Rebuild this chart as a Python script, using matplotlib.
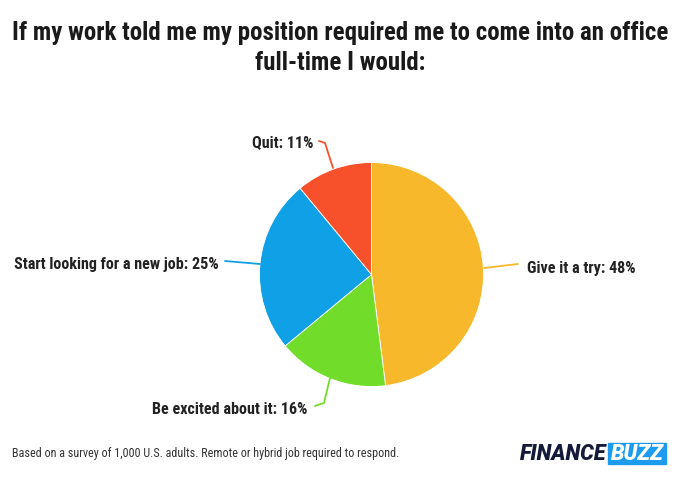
import matplotlib
matplotlib.use("Agg")
import matplotlib.pyplot as plt
from matplotlib.patches import Rectangle

labels = ["Give it a try", "Be excited about it", "Start looking for a new job", "Quit"]
values = [48, 16, 25, 11]
colors = ["#F7B92B", "#71DD2A", "#0FA0E5", "#F7512B"]

title = "If my work told me my position required me to come into an office\nfull-time I would:"
note = "Based on a survey of 1,000 U.S. adults. Remote or hybrid job required to respond."

W, H = 680, 480
cond = ["Roboto Condensed", "DejaVu Sans"]

def Y(y):  # pixel row (top = 0) -> data y
    return H - y

fig = plt.figure(figsize=(6.8, 4.8), dpi=100)
ax = fig.add_axes([0, 0, 1, 1])
ax.set_xlim(0, W)
ax.set_ylim(0, H)
ax.set_aspect("equal")
ax.axis("off")

ax.pie(values, colors=colors, startangle=90, counterclock=False,
       center=(371.5, Y(274.5)), radius=112,
       wedgeprops=dict(linewidth=0.6, edgecolor="white"))
ax.set_xlim(0, W)
ax.set_ylim(0, H)

# label text position, alignment and leader line points (pixels)
label_pos = [
    (527, 269, "left", [(484, 268), (518, 264)]),
    (308, 410, "right", [(330, 378), (324, 403), (315, 406)]),
    (219, 265, "right", [(260, 264), (225, 261)]),
    (314, 143, "right", [(333, 168), (325, 143), (319, 141)]),
]
for lab, val, col, (tx, ty, ha, pts) in zip(labels, values, colors, label_pos):
    ax.plot([p[0] for p in pts], [Y(p[1]) for p in pts], color=col, lw=1.3,
            solid_capstyle="round", solid_joinstyle="round")
    ax.text(tx, Y(ty), f"{lab}: {val}%", ha=ha, va="center", fontsize=11.6,
            fontweight="bold", family=cond, color="#222222")

ax.text(340, Y(33), title.split("\n")[0], ha="center", va="center", fontsize=17.9,
        fontweight="bold", family=cond, color="#1a1a1a")
ax.text(340, Y(63), title.split("\n")[1], ha="center", va="center", fontsize=17.9,
        fontweight="bold", family=cond, color="#1a1a1a")

ax.text(12, Y(454), note, ha="left", va="center", fontsize=8.7,
        family=cond, color="#333333")

# logo
ax.add_patch(Rectangle((608, Y(464)), 58, 21, color="#1C9BEF", zorder=3))
ax.text(606, Y(454), "FINANCE", ha="right", va="center", fontsize=15.5,
        fontweight="black", style="italic", family=["Roboto", "DejaVu Sans"],
        color="#151A3A")
ax.text(637, Y(454), "BUZZ", ha="center", va="center", fontsize=15.5,
        fontweight="black", style="italic", family=["Roboto", "DejaVu Sans"],
        color="white", zorder=4)

fig.savefig("out.png", dpi=100)
